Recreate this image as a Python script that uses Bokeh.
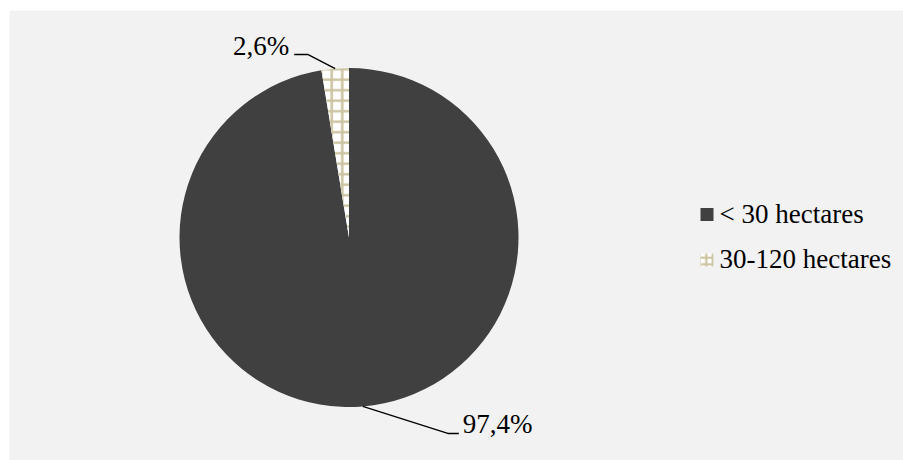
import math
from bokeh.plotting import figure
from bokeh.models import Range1d
from bokeh.core.properties import value
from bokeh.embed import file_html
from bokeh.resources import INLINE

# ---- data ----
categories = ["< 30 hectares", "30-120 hectares"]
shares = [97.4, 2.6]
labels = ["97,4%", "2,6%"]

# ---- styles ----
W, H = 903, 460
LEFT, TOP = 9, 10
FONT = "'Liberation Serif', 'Times New Roman', serif"
FS = "27px"
DARK = "#404040"
TAN = "#cbc3a0"
TSHIFT = 10  # vertical correction for text baseline

def Y(py):
    return H - py  # pixel y (down) -> data y (up)

p = figure(width=W, height=H, output_backend="svg", toolbar_location=None,
           x_range=Range1d(LEFT, W), y_range=Range1d(0, H - TOP),
           x_axis_location=None, y_axis_location=None,
           min_border_left=LEFT, min_border_top=TOP, min_border_right=0, min_border_bottom=0,
           border_fill_color="white", background_fill_color="#f2f2f2",
           outline_line_color=None)
p.grid.visible = False

cx, cy, R = 348.5, Y(237), 169.5
total = sum(shares)
starts, ends, mids = [], [], []
acc = 0.0
for s in shares:
    a0 = math.pi / 2 - acc / total * 2 * math.pi
    acc += s
    a1 = math.pi / 2 - acc / total * 2 * math.pi
    starts.append(a0); ends.append(a1); mids.append((a0 + a1) / 2)

fills = [DARK, "white"]
hatches = [None, "+"]
for i in range(len(shares)):
    p.wedge(x=cx, y=cy, radius=R, start_angle=starts[i], end_angle=ends[i],
            direction="clock", fill_color=fills[i], line_color=None,
            hatch_pattern=hatches[i], hatch_color=TAN, hatch_scale=10.5, hatch_weight=2.5)

# leader lines and labels
elbow_off = [(85, -27), (-27, 14)]
end_off = [11, -14]
for i in range(len(shares)):
    ex = cx + R * math.cos(mids[i]); ey = cy + R * math.sin(mids[i])
    bx = ex + elbow_off[i][0]; by = ey + elbow_off[i][1]
    tx = bx + end_off[i]
    p.line(x=[ex, bx, tx], y=[ey, by, by], line_color="black", line_width=1.4)
    if end_off[i] > 0:
        p.text(x=[tx + 4], y=[by - 1 + TSHIFT], text=[labels[i]], text_font=value(FONT),
               text_font_size=FS, text_align="left", text_baseline="alphabetic", text_color="black")
    else:
        p.text(x=[tx - 5], y=[by - 1 + TSHIFT], text=[labels[i]], text_font=value(FONT),
               text_font_size=FS, text_align="right", text_baseline="alphabetic", text_color="black")

# legend (manual)
leg_x = 706.5
leg_y = [Y(214), Y(259.5)]
p.scatter(x=[leg_x], y=[leg_y[0]], marker="square", size=13, fill_color=DARK, line_color=None)
p.scatter(x=[leg_x], y=[leg_y[1]], marker="square", size=13, fill_color="white", line_color=None,
          hatch_pattern="+", hatch_color=TAN, hatch_scale=6.5, hatch_weight=2.2)
p.text(x=[719, 719], y=[leg_y[0] - 9 + TSHIFT, leg_y[1] - 9 + TSHIFT], text=categories,
       text_font=value(FONT), text_font_size=FS, text_align="left", text_baseline="alphabetic",
       text_color="black")

open("out.html", "w").write(file_html(p, INLINE))
